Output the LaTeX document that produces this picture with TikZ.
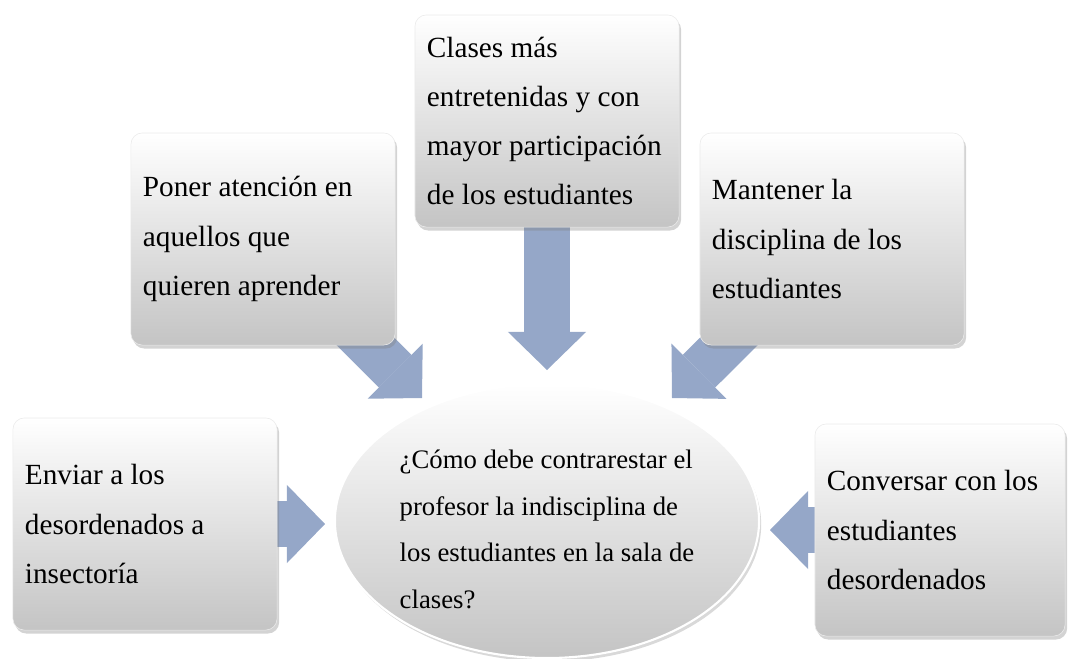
\documentclass[tikz,border=0pt]{standalone}
\usepackage{fontspec}
\setmainfont{Liberation Serif}
\usetikzlibrary{arrows.meta,shapes.geometric,shadows,backgrounds}
\definecolor{arrowblue}{RGB}{149,167,200}
\definecolor{boxgray}{RGB}{196,196,196}

\begin{document}
\begin{tikzpicture}[x=0.025cm,y=-0.025cm]
                    \tikzstyle{every node}+=[font=\fontsize{20.8}{35}\selectfont]
                    \tikzstyle{idea}=[rectangle, rounded corners=8pt, minimum width=6.6cm, minimum height=5.3cm, text width=6.0cm, inner xsep=0.3cm, align=flush left, top color=white, bottom color=boxgray, draw=black!8, drop shadow={opacity=0.35, shadow xshift=1.5pt, shadow yshift=-2.5pt}]
                    \tikzstyle{question}=[ellipse, minimum width=10.6cm, minimum height=6.85cm, inner sep=0pt, align=left, font=\fontsize{19}{33}\selectfont, top color=white, bottom color=boxgray, draw=white, line width=1.5pt, drop shadow={opacity=0.3, shadow xshift=1.5pt, shadow yshift=-2.5pt}]
                    \tikzstyle{flow}=[arrowblue, line width=1.15cm, -{Triangle[width=1.95cm 0 0, length=0.95cm 0 0, line width=0pt 0 0]}]
                    \useasboundingbox (0,0) rectangle (1068,659);
                    \node[question] (centro) at (547,521) {\rule{0pt}{25pt}¿Cómo debe contrarestar el\\profesor la indisciplina de\\los estudiantes en la sala de\\clases?};
                    \node[idea] (clases) at (547,121) {Clases más\\entretenidas y con\\mayor participación\\de los estudiantes};
                    \node[idea] (poner) at (263,239) {Poner atención en\\aquellos que\\quieren aprender};
                    \node[idea] (mantener) at (832,239) {Mantener la\\disciplina de los\\estudiantes};
                    \node[idea] (enviar) at (145,524) {Enviar a los\\desordenados a\\insectoría};
                    \node[idea, minimum width=6.25cm, text width=5.65cm] (conversar) at (940,530) {Conversar con los\\estudiantes\\desordenados};
                    \coordinate (tipclases) at (547,370);
                    \coordinate (tipponer) at (422,398);
                    \coordinate (tipmantener) at (672,398);
                    \coordinate (tipenviar) at (325,524);
                    \coordinate (tipconversar) at (770,530);
                    \begin{pgfonlayer}{background}
                    \draw[flow] (clases.center) -- (tipclases);
                    \draw[flow] (poner.center) -- (tipponer);
                    \draw[flow] (mantener.center) -- (tipmantener);
                    \draw[flow] (enviar.center) -- (tipenviar);
                    \draw[flow] (conversar.center) -- (tipconversar);
                    \end{pgfonlayer}
                \end{tikzpicture}
\end{document}
